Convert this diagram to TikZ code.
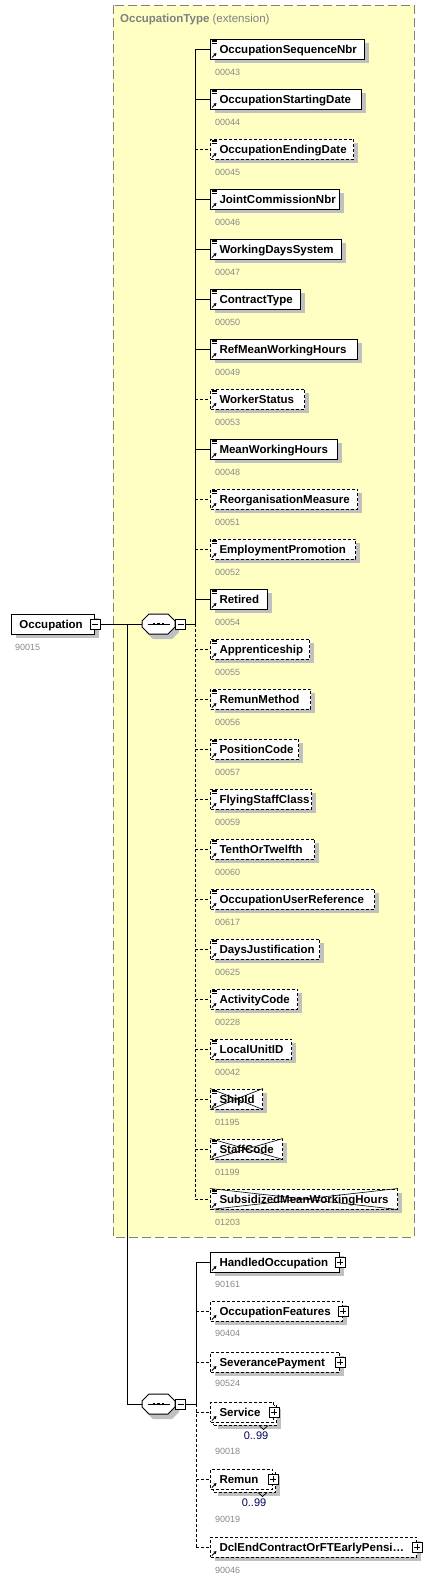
\documentclass[tikz,border=0pt]{standalone}
\usepackage{fontspec}
\setmainfont{Liberation Sans}
\usetikzlibrary{shadows,arrows.meta}

\definecolor{typefill}{HTML}{FFFFC4}
\definecolor{typeline}{HTML}{808080}
\definecolor{codegray}{HTML}{888888}
\definecolor{shadegray}{HTML}{C0C0C0}
\definecolor{occurblue}{HTML}{00005A}

\newcommand{\elemfont}{\bfseries\fontsize{11.5}{13}\selectfont}
\newcommand{\leafmark}[1]{%
  \draw[line width=0.7pt] ([shift={(1.5pt,-1.6pt)}]#1.north west) -- ++(5pt,0pt)
    ([shift={(1.5pt,-3.2pt)}]#1.north west) -- ++(5pt,0pt)
    ([shift={(1.5pt,-4.8pt)}]#1.north west) -- ++(5pt,0pt);}
\newcommand{\refmark}[1]{%
  \draw[line width=1pt, -{Triangle[length=2.6pt,width=3.2pt]}]
    ([shift={(2pt,2pt)}]#1.south west) -- ++(4.4pt,4.4pt);}
\newcommand{\seqshape}[1]{%
  \fill[shadegray, shift={(#1.center)}, xshift=4pt, yshift=-5pt]
    (-16.5,-3) -- (-9.5,-10) -- (9.5,-10) -- (16.5,-3) -- (16.5,3) -- (9.5,10) -- (-9.5,10) -- (-16.5,3) -- cycle;
  \draw[lw, fill=white, shift={(#1.center)}]
    (-16.5,-3) -- (-9.5,-10) -- (9.5,-10) -- (16.5,-3) -- (16.5,3) -- (9.5,10) -- (-9.5,10) -- (-16.5,3) -- cycle;
  \draw[line width=0.9pt, shift={(#1.center)}] (-11,0) -- (11,0);
  \foreach \d in {-4.5,0,4.5}
    \fill[shift={(#1.center)}] (\d-1.4,-1.4) rectangle (\d+1.4,1.4);}

\tikzset{
  lw/.style={line width=1pt},
  req/.style={},
  opt/.style={dash pattern=on 3pt off 2pt},
  boxshadow/.style={drop shadow={shadow xshift=#1, shadow yshift=-#1, fill=shadegray, opacity=1}},
  boxshadow/.default=4pt,
  elem/.style={draw, fill=white, line width=1pt, anchor=west, minimum height=20pt,
    inner sep=0pt, align=left, font=\elemfont, text width=#1, text height=8.2pt, text depth=0pt},
  plain/.style={boxshadow},
  multi/.style={boxshadow=7pt, copy shadow={shadow xshift=3pt, shadow yshift=-3pt,
    draw=black, fill=white, line width=1pt, dash pattern=on 3pt off 2pt}},
  idcode/.style={anchor=west, inner sep=0pt, text=codegray, font=\fontsize{9}{10}\selectfont},
  occur/.style={inner sep=0pt, text=occurblue, font=\fontsize{11}{12}\selectfont},
  pmbox/.style={draw, fill=white, line width=0.8pt, minimum size=10pt, inner sep=0pt},
  minus/.style={pmbox, path picture={\draw[line width=0.8pt]
    ([xshift=2pt]path picture bounding box.west) -- ([xshift=-2pt]path picture bounding box.east);}},
  plus/.style={pmbox, path picture={\draw[line width=0.8pt]
    ([xshift=2pt]path picture bounding box.west) -- ([xshift=-2pt]path picture bounding box.east)
    ([yshift=-2pt]path picture bounding box.north) -- ([yshift=2pt]path picture bounding box.south);}},
  seq/.style={minimum width=33pt, minimum height=20pt, inner sep=0pt},
  xline/.style={line width=0.6pt}
}

\begin{document}
\begin{tikzpicture}[x=1pt, y=-1pt]
\useasboundingbox (0,0) rectangle (442,1582);

% Extension box
\draw[typeline, fill=typefill, line width=1pt, dash pattern=on 9pt off 4pt] (113,5) rectangle (414,1237);
\node[anchor=west, inner sep=0pt, text=typeline, font=\fontsize{11.5}{13}\selectfont] (exttitle) at (120,20)
  {\textbf{OccupationType} (extension)};

% Root element
\node[elem=83pt, plain] (occ) at (11,624) {\hspace*{8pt}\mbox{Occupation}};
\node[minus] (occm) at (occ.east) {};
\node[idcode] (occid) at (15,647) {90015};

% Sequences
\node[seq] (seqa) at (158.5,624) {};
\seqshape{seqa}
\node[minus, anchor=west] (seqam) at (seqa.east) {};
\node[seq] (seqb) at (158.5,1404) {};
\seqshape{seqb}
\node[minus, anchor=west] (seqbm) at (seqb.east) {};
\coordinate (fork) at (127,624);
\coordinate (spine) at (195,0);
\coordinate (spineb) at (196,0);

\draw[lw] (occm.east) -- (seqa.west);
\draw[lw] (fork) |- (seqb.west);

% Children of the extension
\foreach \nm/\rx/\kind/\code [count=\i] in {
  OccupationSequenceNbr/364/req/00043,
  OccupationStartingDate/361/req/00044,
  OccupationEndingDate/353/opt/00045,
  JointCommissionNbr/339/req/00046,
  WorkingDaysSystem/341/req/00047,
  ContractType/300/req/00050,
  RefMeanWorkingHours/357/req/00049,
  WorkerStatus/304/opt/00053,
  MeanWorkingHours/337/req/00048,
  ReorganisationMeasure/357/opt/00051,
  EmploymentPromotion/355/opt/00052,
  Retired/267/req/00054,
  Apprenticeship/309/opt/00055,
  RemunMethod/310/opt/00056,
  PositionCode/298/opt/00057,
  FlyingStaffClass/311/opt/00059,
  TenthOrTwelfth/314/opt/00060,
  OccupationUserReference/374/opt/00617,
  DaysJustification/319/opt/00625,
  ActivityCode/297/opt/00228,
  LocalUnitID/291/opt/00042,
  ShipId/262/opt/01195,
  StaffCode/282/opt/01199,
  SubsidizedMeanWorkingHours/397/opt/01203}{
  \pgfmathsetmacro{\yy}{49+(\i-1)*50}
  \pgfmathsetmacro{\ww}{\rx-210}
  \node[elem=\ww pt, \kind, plain] (e\i) at (210,\yy) {\hspace*{9pt}\mbox{\nm}};
  \node[idcode] (c\i) at (215,\yy+23) {\code};
  \leafmark{e\i}
  \refmark{e\i}
  \draw[lw, \kind] (e\i.west -| spine) -- (e\i.west);
}
\foreach \k in {22,23,24}
  \draw[xline] (e\k.north west) -- (e\k.south east) (e\k.south west) -- (e\k.north east);

\draw[lw] (e1.west -| spine) -- (seqam.east -| spine);
\draw[lw, opt] (seqam.east -| spine) -- (e24.west -| spine);
\draw[lw] (seqam.east) -- (seqam.east -| spine);

% Second sequence
\foreach \nm/\rx/\kind/\look/\yy/\dy/\code [count=\i] in {
  HandledOccupation/339/req/plain/1262/22/90161,
  OccupationFeatures/342/opt/plain/1311/22/90404,
  SeverancePayment/339/opt/plain/1362/21/90524,
  Service/273/opt/multi/1412/39/90018,
  Remun/272/opt/multi/1479/40/90019,
  DclEndContractOrFTEarlyPensi\ldots/416/opt/plain/1547/23/90046}{
  \pgfmathsetmacro{\ww}{\rx-210}
  \node[elem=\ww pt, \kind, \look] (g\i) at (210,\yy) {\hspace*{9pt}\mbox{\nm}};
  \node[plus] (gp\i) at (g\i.east) {};
  \node[idcode] (gc\i) at (215,\yy+\dy) {\code};
  \refmark{g\i}
  \draw[lw, \kind] (g\i.west -| spineb) -- (g\i.west);
}
\foreach \k in {4,5}
  \draw[line width=0.7pt] ([shift={(-15pt,-3pt)}]g\k.south east) -- ++(4.5pt,-4pt) -- ++(4.5pt,4pt);
\node[occur] (occ4) at ([xshift=-18pt, yshift=-24pt]g4.east) {0..99};
\node[occur] (occ5) at ([xshift=-19pt, yshift=-24pt]g5.east) {0..99};

\draw[lw] (g1.west -| spineb) -- (seqbm.east -| spineb);
\draw[lw, opt] (seqbm.east -| spineb) -- (g6.west -| spineb);
\draw[lw] (seqbm.east) -- (seqbm.east -| spineb);

\end{tikzpicture}
\end{document}
